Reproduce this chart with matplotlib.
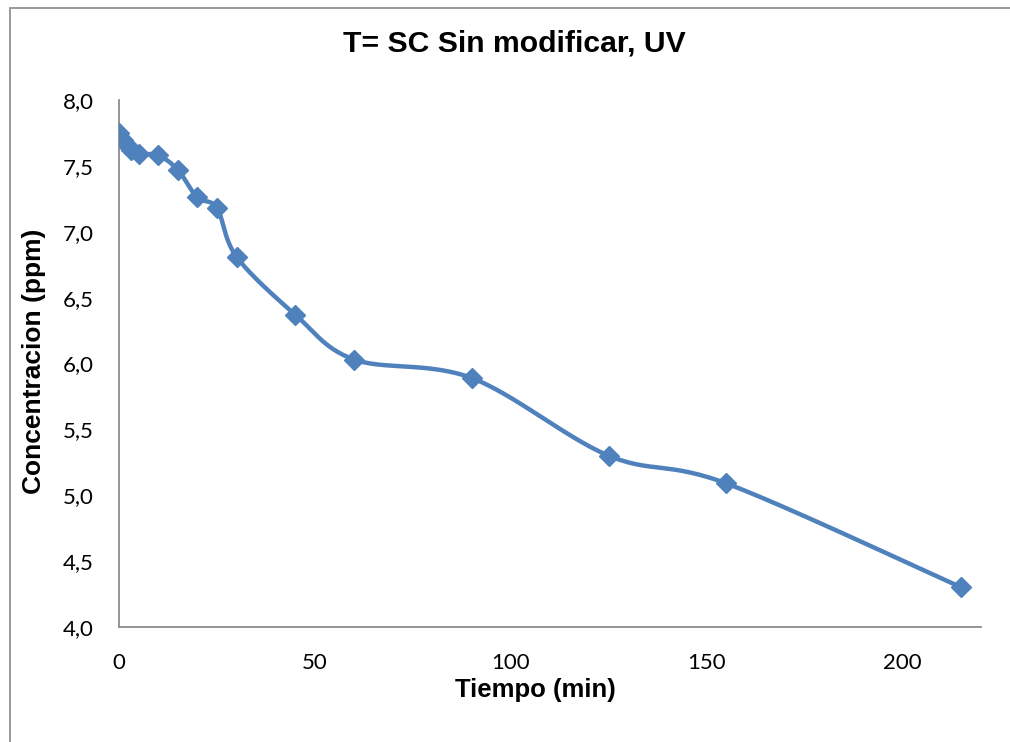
import numpy as np
import matplotlib
matplotlib.use("Agg")
import matplotlib.pyplot as plt
from matplotlib.patches import Rectangle
from matplotlib.ticker import FuncFormatter

# Concentration decay under UV, unmodified SC
tiempo = [0, 1, 2, 3, 5, 10, 15, 20, 25, 30, 45, 60, 90, 125, 155, 215]
concentracion = [7.75, 7.70, 7.66, 7.62, 7.59, 7.58, 7.47, 7.26, 7.18, 6.81,
                 6.37, 6.03, 5.89, 5.30, 5.09, 4.30]

title = "T= SC Sin modificar, UV"
xlabel = "Tiempo (min)"
ylabel = "Concentracion (ppm)"
xticks = [0, 50, 100, 150, 200]
yticks = [4.0, 4.5, 5.0, 5.5, 6.0, 6.5, 7.0, 7.5, 8.0]

COLOR = "#4F81BD"


def smooth_curve(x, y, ax, n=30):
    """Cardinal (Catmull-Rom) Bezier smoothing computed in display space."""
    pts = ax.transData.transform(np.column_stack([x, y]))
    out = []
    m = len(pts)
    for i in range(m - 1):
        p0 = pts[i - 1] if i > 0 else pts[i]
        p1 = pts[i]
        p2 = pts[i + 1]
        p3 = pts[i + 2] if i + 2 < m else pts[i + 1]
        c1 = p1 + (p2 - p0) / 6.0
        c2 = p2 - (p3 - p1) / 6.0
        t = np.linspace(0, 1, n)[:, None]
        seg = ((1 - t) ** 3) * p1 + 3 * ((1 - t) ** 2) * t * c1 \
            + 3 * (1 - t) * t ** 2 * c2 + t ** 3 * p2
        out.append(seg if i == 0 else seg[1:])
    disp = np.vstack(out)
    data = ax.transData.inverted().transform(disp)
    return data[:, 0], data[:, 1]


plt.rcParams["font.family"] = ["Liberation Sans", "DejaVu Sans"]

fig = plt.figure(figsize=(10.10, 7.42), dpi=100)
W, H = 1010, 742
ax = fig.add_axes([119 / W, 1 - 627 / H, (981 - 119) / W, (627 - 100) / H])

ax.set_xlim(0, 220)
ax.set_ylim(4.0, 8.0)

# outer chart frame
fig.patches.append(Rectangle((10 / W, -0.05), 1.1, 1 - 8 / H + 0.05,
                             transform=fig.transFigure, fill=False,
                             edgecolor="#9a9a9a", linewidth=1.4))

xs, ys = smooth_curve(tiempo, concentracion, ax)
ax.plot(xs, ys, color=COLOR, linewidth=3.2, solid_capstyle="round", zorder=2)
ax.plot(tiempo, concentracion, linestyle="none", marker="D", markersize=10.5,
        color=COLOR, markeredgecolor=COLOR, zorder=3)

for side in ["top", "right"]:
    ax.spines[side].set_visible(False)
for side in ["left", "bottom"]:
    ax.spines[side].set_color("#8c8c8c")
    ax.spines[side].set_linewidth(1.3)

ax.set_xticks(xticks)
ax.set_yticks(yticks)
ax.yaxis.set_major_formatter(FuncFormatter(lambda v, p: f"{v:.1f}".replace(".", ",")))
ax.tick_params(length=0)
ax.tick_params(axis="x", pad=19)
ax.tick_params(axis="y", pad=18)
for lab in ax.get_xticklabels() + ax.get_yticklabels():
    lab.set_family(["Lato", "DejaVu Sans"])
    lab.set_fontsize(16)

ax.set_xlabel(xlabel, fontsize=18.5, fontweight="bold")
ax.xaxis.set_label_coords((535 - 119) / (981 - 119), -(690 - 627) / (627 - 100))
ax.xaxis.label.set_va("center")
ax.set_ylabel(ylabel, fontsize=19, fontweight="bold")
ax.yaxis.set_label_coords(-(119 - 34) / (981 - 119), (627 - 361) / (627 - 100))
ax.yaxis.label.set_va("center")
fig.text(514 / W, 1 - 44 / H, title, fontsize=21.7, fontweight="bold",
         ha="center", va="center")

fig.savefig("out.png", dpi=100)
